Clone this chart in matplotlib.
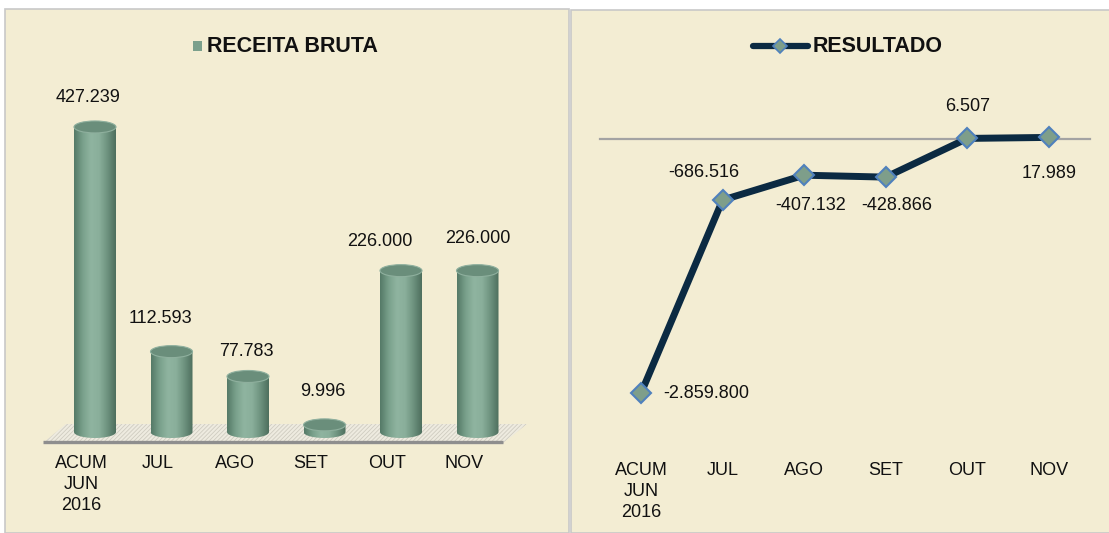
import numpy as np
import matplotlib
matplotlib.use('Agg')
import matplotlib.pyplot as plt
from matplotlib.patches import Rectangle, Ellipse, Polygon
from matplotlib.colors import LinearSegmentedColormap
from matplotlib.lines import Line2D

# Data
categorias = ['ACUM\nJUN\n2016', 'JUL', 'AGO', 'SET', 'OUT', 'NOV']
receita_bruta = [427.239, 112.593, 77.783, 9.996, 226.000, 226.000]
resultado = [-2859.800, -686.516, -407.132, -428.866, 6.507, 17.989]
receita_txt = ['427.239', '112.593', '77.783', '9.996', '226.000', '226.000']
resultado_txt = ['-2.859.800', '-686.516', '-407.132', '-428.866', '6.507', '17.989']

plt.rcParams['font.family'] = ['Liberation Sans', 'DejaVu Sans']
plt.rcParams['hatch.linewidth'] = 0.6

W, H = 1109, 533
BG = '#F3EDD3'
TXT = '#111111'
fig = plt.figure(figsize=(W / 100, H / 100), dpi=100)
fig.patch.set_facecolor('white')

# panel backgrounds
fig.patches.append(Rectangle((5 / W, 0), 564 / W, 524 / H, transform=fig.transFigure,
                             facecolor=BG, edgecolor='#C8C8C8', lw=1.2, zorder=0))
fig.patches.append(Rectangle((571 / W, 0), 540 / W, 523 / H, transform=fig.transFigure,
                             facecolor=BG, edgecolor='#C8C8C8', lw=1.2, zorder=0))

# ---------------- left: RECEITA BRUTA (cylinders) ----------------
axL = fig.add_axes([5 / W, 0, 564 / W, 524 / H])
axL.set_facecolor('none')
axL.set_zorder(2)
x0L, dxL, baseL, kL = 95, 76.5, 432, 0.714   # pixel layout


def lx(px):
    return (px - x0L) / dxL


def ly(py):
    return (baseL - py) / kL


axL.set_xlim(lx(5), lx(569))
axL.set_ylim(ly(533), ly(9))
axL.axis('off')

# floor
floor = Polygon([(lx(43), ly(443)), (lx(503), ly(443)), (lx(527), ly(424)), (lx(66), ly(424))],
                closed=True, facecolor='#EEEBE0', edgecolor='#CFCCC0', lw=0, hatch='////////',
                zorder=1)
axL.add_patch(floor)
axL.plot([lx(43), lx(503)], [ly(442), ly(442)], color='#8E8E8E', lw=2.4, zorder=2,
         solid_capstyle='butt')

cmap = LinearSegmentedColormap.from_list('cyl', ['#557A67', '#79A08B', '#8FB4A0', '#8AAF9B',
                                                  '#6E937F', '#4E6F5E'])
grad = np.linspace(0, 1, 64).reshape(1, -1)
bw = 42 / dxL
eh = 12 / kL
xs = np.arange(len(categorias))
t = np.linspace(np.pi, 2 * np.pi, 40)
for i, v in enumerate(receita_bruta):
    xc = xs[i]
    # body outline: rectangle with rounded bottom
    bottom = [(xc + bw / 2 * np.cos(a), eh / 2 * np.sin(a)) for a in t]
    verts = [(xc - bw / 2, v)] + bottom + [(xc + bw / 2, v)]
    body = Polygon(verts, closed=True, facecolor='none', edgecolor='none', zorder=3)
    axL.add_patch(body)
    im = axL.imshow(grad, cmap=cmap, extent=[xc - bw / 2, xc + bw / 2, -eh / 2, v],
                    aspect='auto', zorder=3, interpolation='bicubic')
    im.set_clip_path(body)
    axL.add_patch(Ellipse((xc, v), bw, eh, facecolor='#6A8E7B', edgecolor='#8FB09E',
                          lw=0.8, zorder=4))

axL.set_xlim(lx(5), lx(569))
axL.set_ylim(ly(533), ly(9))

lab_off_L = [(-7, 29), (-11, 33), (-2, 25), (-2, 33), (-21, 29), (0, 32)]
for i, v in enumerate(receita_bruta):
    axL.annotate(receita_txt[i], (xs[i], v), xytext=lab_off_L[i], textcoords='offset pixels',
                 ha='center', va='center', fontsize=13, color=TXT, zorder=6)

for i, c in enumerate(categorias):
    axL.annotate(c, (xs[i], 0), xytext=(-13.5, -23), textcoords='offset pixels',
                 ha='center', va='top', fontsize=13, color=TXT, linespacing=1.3)

# legend/title
fig.text(207 / W, (H - 46) / H, 'RECEITA BRUTA', fontsize=15.5, fontweight='bold',
         ha='left', va='center', color=TXT, zorder=5)
fig.add_artist(Rectangle((193 / W, (H - 51) / H), 9 / W, 10 / H, transform=fig.transFigure,
                         facecolor='#7BA08C', edgecolor='none', zorder=5))

# ---------------- right: RESULTADO (line) ----------------
axR = fig.add_axes([571 / W, 0, 538 / W, 523 / H])
axR.set_facecolor('none')
axR.set_zorder(2)
x0R, dxR, zeroR, kR = 641, 81.6, 139, 0.0889


def rx(px):
    return (px - x0R) / dxR


def ry(py):
    return (zeroR - py) / kR


axR.set_xlim(rx(571), rx(1109))
axR.set_ylim(ry(533), ry(10))
axR.axis('off')

axR.plot([rx(600), rx(1090)], [0, 0], color='#A3A3A3', lw=1.6, zorder=1)
axR.plot(xs, resultado, color='#0B2A42', lw=5, marker='D', markersize=10,
         markerfacecolor='#7E9E8A', markeredgecolor='#4F81BD', markeredgewidth=1.5,
         solid_joinstyle='round', zorder=3)

lab_off_R = [(22, 0, 'left'), (-19, 28, 'center'), (6, -30, 'center'),
             (11, -28, 'center'), (0, 32, 'center'), (0, -36, 'center')]
for i, v in enumerate(resultado):
    ox, oy, ha = lab_off_R[i]
    axR.annotate(resultado_txt[i], (xs[i], v), xytext=(ox, oy), textcoords='offset pixels',
                 ha=ha, va='center', fontsize=13, color=TXT, zorder=6)

for i, c in enumerate(categorias):
    axR.annotate(c, (xs[i], ry(463)), xytext=(0, 1), textcoords='offset pixels',
                 ha='center', va='top', fontsize=13, color=TXT, linespacing=1.3)

# legend/title
fig.add_artist(Line2D([753 / W, 808 / W], [(H - 46) / H] * 2, transform=fig.transFigure,
                      color='#0B2A42', lw=4.5, solid_capstyle='round', zorder=5))
fig.add_artist(Line2D([780 / W], [(H - 46) / H], transform=fig.transFigure, marker='D',
                      markersize=7, markerfacecolor='#7E9E8A', markeredgecolor='#4F81BD',
                      markeredgewidth=1.2, zorder=6))
fig.text(813 / W, (H - 46) / H, 'RESULTADO', fontsize=15.5, fontweight='bold',
         ha='left', va='center', color=TXT, zorder=5)

fig.savefig('out.png', dpi=100, facecolor=fig.get_facecolor())
